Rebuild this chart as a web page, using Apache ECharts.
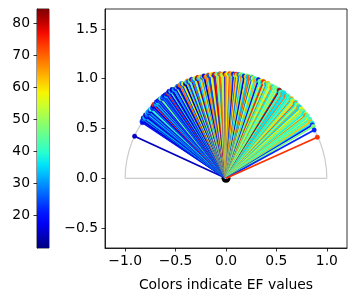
<!DOCTYPE html>
<html><head><meta charset="utf-8">
<script src="https://cdn.jsdelivr.net/npm/echarts@6/dist/echarts.min.js"></script>
<style>html,body{margin:0;padding:0;background:#fff}#c{width:355px;height:301px}</style>
</head><body><div id="c"></div>
<script>
// ---- data ----
const angleDeg = [155,
 146,145.5,145,144,143.5,143,142,141.5,141,140,139.5,139,138,137.5,137,136,135.5,135,134,133.5,133,132,131.5,131,130,129.5,129,128,127.5,127,126,125.5,125,124,123.5,123,122,121.5,121,120,
 119,118,117.5,117,116,115,114.5,114,113,112, 111.5,111,110,109,108.5,108,107,106,105.5,105, 104,103,102.5,102,101,100,99.5,99,98,97,
 96.5,96,95,94,93.5,93,92,91,90.5,90, 89,88,87.5,87,86,85,84.5,84,83,82, 81.5,81,80,79,78.5,78,77,76,75.5,75,
 74,73,72.5,72,71,70,69.5,69,68,67, 66.5,66,65,64,63.5,63,62,
 61,60,59.5,59,58,57,56.5,56,55,54, 53.5,53,52,51,50.5,50,49,48,47.5,47, 46,45,44.5,44,43,42,41.5,41,40,39, 38.5,38,37,36,35.5,35,34,33,32,31,
 29,24.5];
const efValues = [14,
 18,22,15,28,14,33,20,12,25,36,17,30,13,24,40,19,27,16,75,22,32,14,38,21,26,15,45,18,30,23,13,35,20,78,28,17,42,24,14,31,
 19,50,26,15,70,33,22,58,12,38, 66,24,45,17,72,30,55,20,80,35, 62,27,48,16,68,40,74,25,57,65,
 21,77,44,60,30,70,52,63,18,67, 58,73,36,65,22,47,76,60,28,55, 69,40,15,62,50,33,71,45,24,57,
 38,66,48,20,43,59,35,75,52,30, 63,41,55,46,68,37,50,
 44,58,33,82,40,39,68,36,36,70, 45,38,41,64,34,47,60,43,72,38, 53,37,66,35,57,42,61,45,37,55, 70,44,40,58,39,43,63,38,20,47,
 22,74];
const radius = [1.0,
 1.0,1.01,1.0,1.01,1.02,1.01,1.0,1.02,1.01,1.02,1.01,1.02,1.01,1.02,1.02,1.01,1.02,1.02,1.03,1.02,1.02,1.03,1.02,1.03,1.02,1.03,1.03,1.02,1.03,1.03,1.03,1.02,1.03,1.03,1.03,1.04,1.03,1.03,1.04,1.03,
 1.03,1.04,1.04,1.03,1.04,1.05,1.04,1.04,1.03,1.04, 1.05,1.04,1.04,1.05,1.04,1.04,1.05,1.04,1.05,1.04, 1.05,1.04,1.05,1.05,1.04,1.05,1.05,1.04,1.05,1.05,
 1.04,1.05,1.05,1.04,1.05,1.05,1.04,1.05,1.05,1.04, 1.05,1.05,1.04,1.05,1.05,1.04,1.05,1.04,1.05,1.05, 1.04,1.05,1.04,1.04,1.05,1.04,1.04,1.05,1.04,1.04,
 1.04,1.03,1.04,1.04,1.03,1.04,1.03,1.04,1.03,1.03, 1.04,1.03,1.03,1.03,1.02,1.03,1.03,
 1.03,1.02,1.03,1.03,1.02,1.03,1.02,1.03,1.02,1.02, 1.03,1.02,1.02,1.03,1.02,1.02,1.02,1.03,1.02,1.02, 1.02,1.02,1.01,1.02,1.02,1.01,1.02,1.02,1.01,1.02, 1.01,1.02,1.01,1.01,1.02,1.01,1.01,1.02,1.01,1.01,
 1.0,0.995];
const xTicks = [-1.0,-0.5,0.0,0.5,1.0];
const yTicks = [-0.5,0.0,0.5,1.0,1.5];
const cbTicks = [20,30,40,50,60,70,80];
const efMin = 9.94, efMax = 84.45;
const xLabel = 'Colors indicate EF values';

// ---- style ----
const jet = ['#00007f','#0000b9','#0000f4','#0019ff','#004cff','#007fff','#00b2ff','#00e5f7','#29ffce','#52ffa4','#7bff7b',
             '#a4ff52','#ceff29','#f7f500','#ffc600','#ff9700','#ff6800','#ff3900','#f40900','#b90000','#7f0000'];
const FONT = 'DejaVu Sans';
const fmt = v => (v < 0 ? '\u2212' : '') + Math.abs(v).toFixed(1);
const lineData = angleDeg.map((a, i) => [a, efValues[i], radius[i]]);

const chart = echarts.init(document.getElementById('c'), null, {renderer: 'canvas'});
const axisCommon = {
  axisLine: {show: true, onZero: false, lineStyle: {color: '#000', width: 0.8}},
  axisTick: {show: true, length: 3.5, inside: false, lineStyle: {color: '#000', width: 0.8}},
  splitLine: {show: false}
};
chart.setOption({
  animation: false,
  grid: [
    {left: 105, right: 8, top: 9, bottom: 53, show: true, borderColor: '#000', borderWidth: 0.8, containLabel: false},
    {left: 37, width: 12, top: 9, height: 239, show: true, borderColor: '#000', borderWidth: 0.8, containLabel: false}
  ],
  xAxis: [
    Object.assign({}, axisCommon, {type: 'value', gridIndex: 0, min: -1.2, max: 1.2, position: 'bottom',
      axisTick: Object.assign({}, axisCommon.axisTick, {customValues: xTicks}),
      axisLabel: {customValues: xTicks, formatter: fmt, color: '#000', fontFamily: FONT, fontSize: 13.9, margin: 6},
      name: xLabel, nameLocation: 'middle', nameGap: 30,
      nameTextStyle: {color: '#000', fontFamily: FONT, fontSize: 13.9}}),
    {type: 'value', gridIndex: 1, min: 0, max: 1, show: false}
  ],
  yAxis: [
    Object.assign({}, axisCommon, {type: 'value', gridIndex: 0, min: -0.7, max: 1.7, position: 'left',
      axisTick: Object.assign({}, axisCommon.axisTick, {customValues: yTicks}),
      axisLabel: {customValues: yTicks, formatter: fmt, color: '#000', fontFamily: FONT, fontSize: 13.9, margin: 7}}),
    Object.assign({}, axisCommon, {type: 'value', gridIndex: 1, min: efMin, max: efMax, position: 'left',
      axisTick: Object.assign({}, axisCommon.axisTick, {customValues: cbTicks}),
      axisLabel: {customValues: cbTicks, color: '#000', fontFamily: FONT, fontSize: 13.9, margin: 7}})
  ],
  visualMap: {type: 'continuous', show: false, seriesIndex: 2, dimension: 1, min: efMin, max: efMax, inRange: {color: jet}},
  series: [
    { // unit semicircle guide
      type: 'custom', xAxisIndex: 0, yAxisIndex: 0, clip: false, z: 1,
      data: [[0, 0, 1]],
      renderItem: function (params, api) {
        const c = api.coord([0, 0]);
        const r = api.size([api.value(2), 0])[0];
        const l = api.coord([-api.value(2), 0]);
        const rt = api.coord([api.value(2), 0]);
        return {type: 'group', children: [
          {type: 'arc', shape: {cx: c[0], cy: c[1], r: r, startAngle: Math.PI, endAngle: 2 * Math.PI, clockwise: true},
           style: {stroke: '#cccccc', lineWidth: 1.2, fill: null}},
          {type: 'line', shape: {x1: l[0], y1: l[1], x2: rt[0], y2: rt[1]}, style: {stroke: '#cccccc', lineWidth: 1.2}}
        ]};
      }
    },
    { // origin marker
      type: 'custom', xAxisIndex: 0, yAxisIndex: 0, clip: false, z: 2,
      data: [[0, 0]],
      renderItem: function (params, api) {
        const p = api.coord([api.value(0), api.value(1)]);
        return {type: 'circle', shape: {cx: p[0], cy: p[1], r: 4.5}, style: {fill: '#000'}};
      }
    },
    { // EF-coloured rays
      type: 'custom', xAxisIndex: 0, yAxisIndex: 0, clip: false, z: 3,
      encode: {x: 0, y: 1},
      data: lineData,
      renderItem: function (params, api) {
        const a = api.value(0) * Math.PI / 180, r = api.value(2);
        const p0 = api.coord([0, 0]);
        const p1 = api.coord([r * Math.cos(a), r * Math.sin(a)]);
        const col = api.visual('color');
        return {type: 'group', children: [
          {type: 'line', shape: {x1: p0[0], y1: p0[1], x2: p1[0], y2: p1[1]}, style: {stroke: col, lineWidth: 1.8}},
          {type: 'circle', shape: {cx: p1[0], cy: p1[1], r: 2.2}, style: {fill: col, stroke: col, lineWidth: 0.5}}
        ]};
      }
    },
    { // colorbar
      type: 'custom', xAxisIndex: 1, yAxisIndex: 1, clip: false, z: 1,
      data: [[0, efMin, efMax]],
      renderItem: function (params, api) {
        const lo = api.coord([0, api.value(1)]);
        const hi = api.coord([1, api.value(2)]);
        const stops = jet.map((c, i) => ({offset: i / (jet.length - 1), color: c}));
        return {type: 'rect', shape: {x: lo[0], y: hi[1], width: hi[0] - lo[0], height: lo[1] - hi[1]},
          style: {fill: {type: 'linear', x: 0, y: 1, x2: 0, y2: 0, colorStops: stops, global: false}}};
      }
    }
  ]
});
</script></body></html>
